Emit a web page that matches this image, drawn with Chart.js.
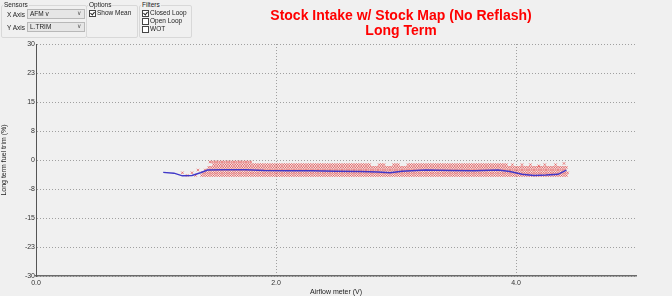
<!DOCTYPE html>
<html>
<head>
<meta charset="utf-8">
<script src="https://cdn.jsdelivr.net/npm/chart.js@4/dist/chart.umd.min.js"></script>
<style>
  body{margin:0;background:#f0f0f0;font-family:"Liberation Sans",Arial,sans-serif;color:#222;}
  #wrap{position:relative;width:672px;height:296px;overflow:hidden;}
  canvas{position:absolute;left:0;top:0;}
  .grp{position:absolute;top:5px;height:31px;border:1px solid #d8d8d8;border-radius:2px;}
  .lbl{position:absolute;font-size:6.5px;line-height:8px;white-space:nowrap;background:#f0f0f0;padding:0 1px;}
  .combo{position:absolute;width:54px;height:8px;border:1px solid #b8b8b8;background:#e6e6e6;font-size:6.5px;line-height:8px;padding-left:2px;box-sizing:content-box;}
  .combo span{position:absolute;right:3px;top:-1px;font-size:6px;color:#555;}
  .chk{position:absolute;width:5px;height:5px;border:1px solid #444;background:#fff;}
  .chk.on::after{content:"";position:absolute;left:1px;top:0;width:2px;height:3px;border:solid #222;border-width:0 1px 1px 0;transform:rotate(40deg);}
</style>
</head>
<body>
<div id="wrap">
  <canvas id="afmChart" width="672" height="296"></canvas>

  <div class="grp" style="left:1px;width:84px;"></div>
  <div class="lbl" style="left:3px;top:1px;">Sensors</div>
  <div class="lbl" style="left:6px;top:11px;background:none;">X Axis</div>
  <div class="combo" style="left:27px;top:9px;">AFM v<span>&#8744;</span></div>
  <div class="lbl" style="left:6px;top:24px;background:none;">Y Axis</div>
  <div class="combo" style="left:27px;top:22px;">L.TRIM<span>&#8744;</span></div>

  <div class="grp" style="left:86px;width:50px;"></div>
  <div class="lbl" style="left:88px;top:1px;">Options</div>
  <div class="chk on" style="left:89px;top:10px;"></div>
  <div class="lbl" style="left:96px;top:9px;background:none;">Show Mean</div>

  <div class="grp" style="left:139px;width:51px;"></div>
  <div class="lbl" style="left:141px;top:1px;">Filters</div>
  <div class="chk on" style="left:142px;top:10px;"></div>
  <div class="lbl" style="left:149px;top:9px;background:none;">Closed Loop</div>
  <div class="chk" style="left:142px;top:18px;"></div>
  <div class="lbl" style="left:149px;top:17px;background:none;">Open Loop</div>
  <div class="chk" style="left:142px;top:26px;"></div>
  <div class="lbl" style="left:149px;top:25px;background:none;">WOT</div>
</div>
<script>
// titel + sumbu
const titleLines = ["Stock Intake w/ Stock Map (No Reflash)", "Long Term"];
const xTitle = "Airflow meter (V)";
const yTitle = "Long term fuel trim (%)";
const yTickLabels = ["-30", "-23", "-15", "-8", "0", "8", "15", "23", "30"];

// scatter: baris L.TRIM, tiap baris punya rentang AFM yang terisi (step sensor AFM)
const afmStep = 0.02;
const ltrimRows = [-0.5, -1.2, -1.9, -2.6, -3.3, -4.0];
const rowRuns = [
  [[1.45, 1.80]],
  [[1.48, 2.78], [2.86, 2.90], [2.98, 3.02], [3.10, 3.92]],
  [[1.44, 4.42]],
  [[1.41, 4.42]],
  [[1.39, 4.43]],
  [[1.38, 4.43]]
];
// titik lepas di luar pita
const looseAfm  = [1.22, 1.26, 1.30, 1.33, 1.35, 3.97, 4.05, 4.12, 4.19, 4.24, 4.33, 4.40];
const looseTrim = [-3.3, -4.0, -3.3, -4.0, -2.6, -1.2, -1.2, -1.2, -1.5, -1.2, -1.2, -0.9];

// garis mean
const meanAfm  = [1.06, 1.15, 1.22, 1.30, 1.37, 1.43, 1.55, 1.75, 1.90, 2.10, 2.30, 2.50, 2.70, 2.85, 2.95, 3.05, 3.25, 3.45, 3.65, 3.85, 3.95, 4.05, 4.15, 4.25, 4.35, 4.42];
const meanTrim = [-3.2, -3.4, -4.1, -4.0, -3.3, -2.6, -2.5, -2.5, -2.7, -2.8, -2.8, -2.9, -3.0, -3.1, -3.3, -2.9, -2.6, -2.7, -2.8, -2.6, -3.0, -3.7, -4.0, -3.9, -3.7, -2.6];

const scatterPts = [];
ltrimRows.forEach((trim, r) => {
  rowRuns[r].forEach(([a, b]) => {
    for (let v = a; v <= b + 1e-9; v += afmStep) scatterPts.push({x: v, y: trim});
  });
});
looseAfm.forEach((v, i) => scatterPts.push({x: v, y: looseTrim[i]}));

const meanPts = meanAfm.map((v, i) => ({x: v, y: meanTrim[i]}));

const tickFont = {family: "'Liberation Sans', Arial, sans-serif", size: 7};

const titlePlugin = {
  id: "winTitle",
  afterDraw(chart) {
    const c = chart.ctx;
    c.save();
    c.fillStyle = "#ff0000";
    c.font = "bold 14px 'Liberation Sans', Arial, sans-serif";
    c.textAlign = "center";
    c.textBaseline = "middle";
    c.fillText(titleLines[0], 401, 16);
    c.fillText(titleLines[1], 401, 31);
    c.restore();
  }
};

new Chart(document.getElementById("afmChart"), {
  type: "scatter",
  data: {
    datasets: [
      {
        label: "Mean",
        data: meanPts,
        showLine: true,
        borderColor: "#4038c8",
        borderWidth: 1.5,
        pointRadius: 0,
        tension: 0
      },
      {
        label: "L.TRIM",
        data: scatterPts,
        pointStyle: "crossRot",
        pointRadius: 1.8,
        borderWidth: 1,
        borderColor: "rgba(228,48,48,0.55)",
        backgroundColor: "rgba(228,48,48,0.55)"
      }
    ]
  },
  options: {
    responsive: false,
    maintainAspectRatio: false,
    animation: false,
    layout: {padding: {top: 44, right: 36, left: 0, bottom: 0}},
    plugins: {legend: {display: false}, tooltip: {enabled: false}},
    scales: {
      x: {
        type: "linear", min: 0, max: 5,
        ticks: {stepSize: 2, includeBounds: false, padding: 3, font: tickFont, color: "#333",
          callback: v => v.toFixed(1)},
        grid: {color: "#a0a0a0", drawTicks: false},
        border: {color: "#6a6a6a", width: 1.5, dash: [1, 2]},
        title: {display: true, text: xTitle, font: tickFont, color: "#222", padding: {top: 0, bottom: 0}},
        afterFit(s) { s.height = 20; }
      },
      y: {
        min: -30, max: 30,
        ticks: {stepSize: 7.5, padding: 1, font: tickFont, color: "#333",
          callback: (v, i) => yTickLabels[i]},
        grid: {color: "#a0a0a0", drawTicks: false},
        border: {color: "#555", width: 1, dash: [1, 2]},
        title: {display: true, text: yTitle, font: tickFont, color: "#222", padding: {top: 0, bottom: 0}},
        afterFit(s) { s.width = 36; }
      }
    }
  },
  plugins: [titlePlugin]
});
</script>
</body>
</html>
